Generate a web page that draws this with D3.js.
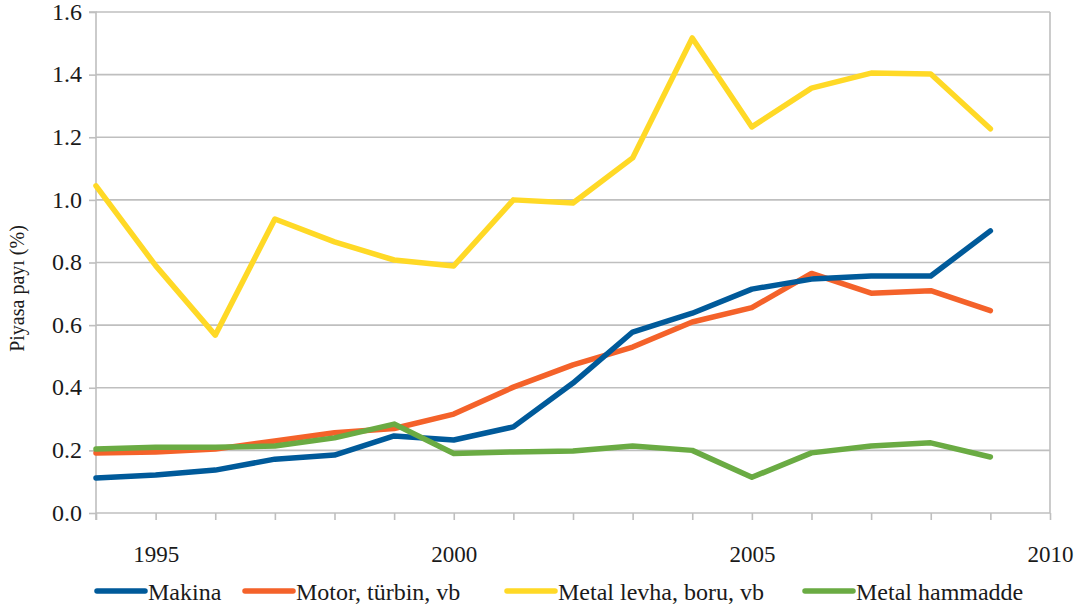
<!DOCTYPE html>
<html><head><meta charset="utf-8">
<script src="https://cdn.jsdelivr.net/npm/d3@7"></script>
</head><body style="margin:0;background:#fff">
<svg id="c" width="1080" height="610" style="display:block"></svg>
<script>
const years = [1994,1995,1996,1997,1998,1999,2000,2001,2002,2003,2004,2005,2006,2007,2008,2009];
const makina =   [0.112,0.121,0.137,0.172,0.185,0.246,0.233,0.275,0.415,0.578,0.638,0.715,0.747,0.757,0.757,0.901];
const motor =    [0.192,0.195,0.204,0.230,0.256,0.270,0.316,0.402,0.473,0.530,0.610,0.656,0.765,0.702,0.710,0.646];
const levha =    [1.045,0.790,0.568,0.939,0.866,0.808,0.789,1.000,0.990,1.134,1.517,1.233,1.357,1.405,1.402,1.227];
const hammadde = [0.204,0.210,0.210,0.214,0.240,0.284,0.190,0.195,0.198,0.214,0.200,0.114,0.192,0.214,0.224,0.179];
const seriesNames = ["Makina","Motor, türbin, vb","Metal levha, boru, vb","Metal hammadde"];
const seriesColors = ["#005a9a","#f4622a","#ffd926","#6aab43"];
const yTicks = [0,0.2,0.4,0.6,0.8,1.0,1.2,1.4,1.6];
const xLabelYears = [1995,2000,2005,2010];
const yTitle = "Piyasa payı (%)";

const FONT = '"Liberation Serif"';
const svg = d3.select("#c");
const x = d3.scaleLinear().domain([1994,2010]).range([96,1050]);
const y = d3.scaleLinear().domain([0,1.6]).range([513,12]);
const grid = "#bfbfbf";

svg.append("g").selectAll("line").data(yTicks.slice(1)).join("line")
  .attr("x1",x(1994)).attr("x2",x(2010)).attr("y1",d=>y(d)).attr("y2",d=>y(d))
  .attr("stroke",grid).attr("stroke-width",1.6);
svg.append("line").attr("x1",x(2010)).attr("x2",x(2010)).attr("y1",y(1.6)).attr("y2",y(0))
  .attr("stroke",grid).attr("stroke-width",1.6);

const yAxis = svg.append("g").attr("transform",`translate(${x(1994)},0)`)
  .call(d3.axisLeft(y).tickValues(yTicks).tickFormat(d3.format(".1f")).tickSize(7).tickPadding(7));
yAxis.attr("font-family",null).attr("font-size",null);
yAxis.select(".domain").attr("stroke",grid).attr("stroke-width",1.6).attr("d",`M-7,${y(1.6)}H0V${y(0)+7}`);
yAxis.selectAll(".tick line").attr("stroke",grid).attr("stroke-width",1.6);
yAxis.selectAll("text").attr("style",`font-family:${FONT};font-size:24px`).attr("fill","#1a1a1a").attr("dy","0.3em");

const xAxis = svg.append("g").attr("transform",`translate(0,${y(0)})`)
  .call(d3.axisBottom(x).tickValues(d3.range(1994,2011)).tickFormat(d=>xLabelYears.includes(d)?d:"").tickSize(7).tickPadding(26));
xAxis.attr("font-family",null).attr("font-size",null);
xAxis.select(".domain").attr("stroke",grid).attr("stroke-width",1.6).attr("d",`M${x(1994)},0H${x(2010)}`);
xAxis.selectAll(".tick line").attr("stroke",grid).attr("stroke-width",1.6);
xAxis.selectAll("text").attr("style",`font-family:${FONT};font-size:23px`).attr("fill","#1a1a1a");

svg.append("text").attr("transform",`translate(24,${(y(0)+y(1.6))/2+26}) rotate(-90)`)
  .attr("text-anchor","middle").attr("style",`font-family:${FONT};font-size:20px`).attr("fill","#1a1a1a").text(yTitle);

const allSeries = [makina,motor,levha,hammadde];
const line = d3.line().x((d,i)=>x(years[i])).y(d=>y(d));
const order = [2,1,0,3];
order.forEach(k=>{
  svg.append("path").datum(allSeries[k]).attr("d",line).attr("fill","none")
    .attr("stroke",seriesColors[k]).attr("stroke-width",5.5)
    .attr("stroke-linejoin","round").attr("stroke-linecap","round");
});

const legX = [97,245,507,805];
const lg = svg.append("g");
seriesNames.forEach((n,i)=>{
  lg.append("line").attr("x1",legX[i]).attr("x2",legX[i]+48).attr("y1",591).attr("y2",591)
    .attr("stroke",seriesColors[i]).attr("stroke-width",5.5).attr("stroke-linecap","round");
  lg.append("text").attr("x",legX[i]+51).attr("y",600).attr("style",`font-family:${FONT};font-size:24px`)
    .attr("fill","#1a1a1a").text(n);
});
</script>
</body></html>
